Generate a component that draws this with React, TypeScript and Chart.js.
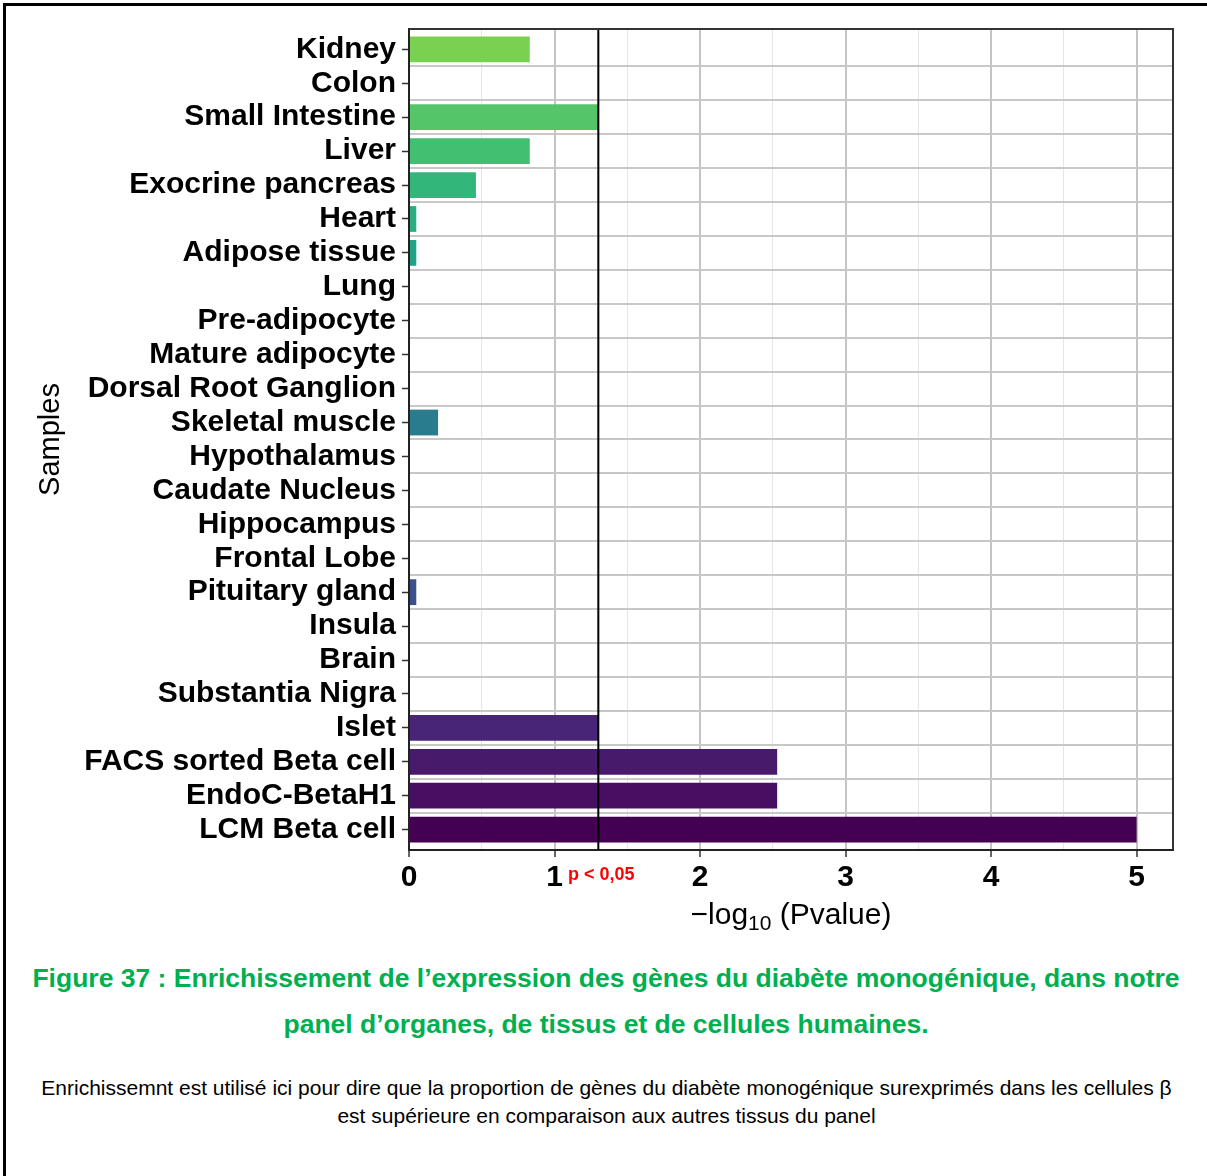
import React, { useEffect, useRef } from 'react';
import { Chart, registerables } from 'chart.js';

Chart.register(...registerables);

const categories: string[] = [
  'Kidney', 'Colon', 'Small Intestine', 'Liver', 'Exocrine pancreas', 'Heart',
  'Adipose tissue', 'Lung', 'Pre-adipocyte', 'Mature adipocyte', 'Dorsal Root Ganglion',
  'Skeletal muscle', 'Hypothalamus', 'Caudate Nucleus', 'Hippocampus', 'Frontal Lobe',
  'Pituitary gland', 'Insula', 'Brain', 'Substantia Nigra', 'Islet',
  'FACS sorted Beta cell', 'EndoC-BetaH1', 'LCM Beta cell',
];

const negLog10P: number[] = [
  0.83, 0, 1.30, 0.83, 0.46, 0.05,
  0.05, 0, 0, 0, 0,
  0.20, 0, 0, 0, 0,
  0.05, 0, 0, 0, 1.30,
  2.53, 2.53, 5.0,
];

const barColors: string[] = [
  '#7AD151', '#65CB5E', '#54C568', '#43BF71', '#33B67A', '#28AE80',
  '#20A486', '#1F9E89', '#1F978B', '#228D8D', '#25858E',
  '#287C8E', '#2C738E', '#2F6C8E', '#34628D', '#38598C',
  '#3C508B', '#404688', '#443D84', '#46307E', '#482576',
  '#481A6C', '#470E61', '#440154',
];

const xTickValues: number[] = [0, 0.5, 1, 1.5, 2, 2.5, 3, 3.5, 4, 4.5, 5];
const threshold = 1.301;
const thresholdLabel = 'p < 0,05';
const yTitle = 'Samples';

const FONT = "'Liberation Sans', Arial, Helvetica, sans-serif";

export default function App() {
  const ref = useRef<HTMLCanvasElement>(null);

  useEffect(() => {
    Chart.defaults.font.family = FONT;
    const yMin = -0.6;
    const yMax = categories.length - 1 + 0.6;

    const framePlugin = {
      id: 'frame',
      afterDraw(chart: any) {
        const { ctx, chartArea } = chart;
        const { top, right, bottom, left } = chartArea;
        ctx.save();
        ctx.strokeStyle = '#333';
        ctx.lineWidth = 2;
        ctx.beginPath();
        ctx.moveTo(left, top);
        ctx.lineTo(right, top);
        ctx.lineTo(right, bottom);
        ctx.stroke();
        const px = chart.scales.x.getPixelForValue(threshold);
        ctx.fillStyle = '#ff0000';
        ctx.font = `bold 18px ${FONT}`;
        ctx.textAlign = 'center';
        ctx.textBaseline = 'alphabetic';
        ctx.fillText(thresholdLabel, px + 3, bottom + 30);
        ctx.restore();
      },
    };

    const chart = new Chart(ref.current!, {
      type: 'bar',
      data: {
        datasets: [
          {
            type: 'bar',
            data: categories.map((_, i) => ({ x: negLog10P[i], y: i })),
            backgroundColor: barColors,
            borderWidth: 0,
            barPercentage: 0.76,
            categoryPercentage: 1,
            order: 2,
            xAxisID: 'x',
            yAxisID: 'y',
          } as any,
          {
            type: 'line',
            data: [
              { x: threshold, y: yMin },
              { x: threshold, y: yMax },
            ],
            borderColor: '#000',
            borderWidth: 2,
            pointRadius: 0,
            fill: false,
            order: 1,
            xAxisID: 'x',
            yAxisID: 'y',
          } as any,
        ],
      },
      options: {
        indexAxis: 'y',
        responsive: false,
        animation: false,
        layout: { padding: { left: 30, top: 29, right: 34, bottom: 10 } },
        plugins: { legend: { display: false }, tooltip: { enabled: false } },
        scales: {
          x: {
            type: 'linear',
            position: 'bottom',
            min: 0,
            max: 5.25,
            offset: false,
            afterBuildTicks: (s: any) => {
              s.ticks = xTickValues.map((v) => ({ value: v }));
            },
            afterFit: (s: any) => {
              s.height = 85;
            },
            ticks: {
              autoSkip: false,
              maxRotation: 0,
              padding: 3,
              color: '#000',
              font: { size: 30, weight: 'bold' },
              callback: (v: any) => (Number.isInteger(v) ? String(v) : ''),
            },
            grid: {
              offset: false,
              color: (c: any) => (Number.isInteger(c.tick?.value) ? '#c4c4c4' : '#e6e6e6'),
              lineWidth: (c: any) => (Number.isInteger(c.tick?.value) ? 2 : 1),
              tickLength: 7,
              tickWidth: 1.5,
              tickColor: (c: any) => (Number.isInteger(c.tick?.value) ? '#333' : 'rgba(0,0,0,0)'),
            },
            border: { display: true, color: '#222', width: 2 },
          },
          yGrid: {
            type: 'linear',
            position: 'left',
            min: yMin,
            max: yMax,
            reverse: true,
            offset: false,
            afterBuildTicks: (s: any) => {
              s.ticks = categories.slice(1).map((_, i) => ({ value: i + 0.5 }));
            },
            afterFit: (s: any) => {
              s.width = 0;
            },
            ticks: { display: false },
            grid: { offset: false, color: '#c8c8c8', lineWidth: 2, drawTicks: false },
            border: { display: false },
          },
          y: {
            type: 'linear',
            position: 'left',
            min: yMin,
            max: yMax,
            reverse: true,
            offset: false,
            afterBuildTicks: (s: any) => {
              s.ticks = categories.map((_, i) => ({ value: i }));
            },
            afterFit: (s: any) => {
              s.width = 379;
            },
            ticks: {
              autoSkip: false,
              padding: 6,
              color: '#000',
              font: { size: 30, weight: 'bold' },
              callback: (v: any) => categories[v as number] ?? '',
            },
            grid: {
              offset: false,
              drawOnChartArea: false,
              tickLength: 7,
              tickWidth: 1.5,
              tickColor: '#333',
            },
            border: { display: true, color: '#222', width: 2 },
            title: {
              display: true,
              text: yTitle,
              color: '#000',
              font: { size: 29, weight: 'normal' },
              padding: { top: 4, bottom: 0 },
            },
          },
        },
      } as any,
      plugins: [framePlugin],
    });
    return () => chart.destroy();
  }, []);

  return (
    <div
      style={{
        position: 'absolute',
        left: 0,
        top: 0,
        width: 1207,
        height: 1176,
        overflow: 'hidden',
        background: '#fff',
        fontFamily: FONT,
      }}
    >
      <div
        style={{
          position: 'absolute',
          left: 3,
          top: 3,
          width: 1400,
          height: 1400,
          borderTop: '3px solid #000',
          borderLeft: '3px solid #000',
        }}
      />
      <canvas
        ref={ref}
        width={1207}
        height={945}
        style={{ position: 'absolute', left: 0, top: 0, width: 1207, height: 945 }}
      />
      <div
        style={{
          position: 'absolute',
          left: 591,
          top: 897,
          width: 400,
          height: 34,
          lineHeight: '34px',
          textAlign: 'center',
          fontSize: 30,
          color: '#000',
          whiteSpace: 'nowrap',
        }}
      >
        −log<sub style={{ fontSize: 21, verticalAlign: '-6px', lineHeight: 0 }}>10</sub> (Pvalue)
      </div>
      <div
        style={{
          position: 'absolute',
          left: 0,
          top: 955,
          width: 1212,
          textAlign: 'center',
          fontSize: 26.5,
          fontWeight: 'bold',
          lineHeight: '46px',
          color: '#00B050',
          whiteSpace: 'nowrap',
        }}
      >
        Figure 37 : Enrichissement de l’expression des gènes du diabète monogénique, dans notre
        <br />
        panel d’organes, de tissus et de cellules humaines.
      </div>
      <div
        style={{
          position: 'absolute',
          left: 0,
          top: 1074,
          width: 1213,
          textAlign: 'center',
          fontSize: 21,
          lineHeight: '28px',
          color: '#000',
          whiteSpace: 'nowrap',
        }}
      >
        Enrichissemnt est utilisé ici pour dire que la proportion de gènes du diabète monogénique surexprimés dans les cellules β
        <br />
        est supérieure en comparaison aux autres tissus du panel
      </div>
    </div>
  );
}
